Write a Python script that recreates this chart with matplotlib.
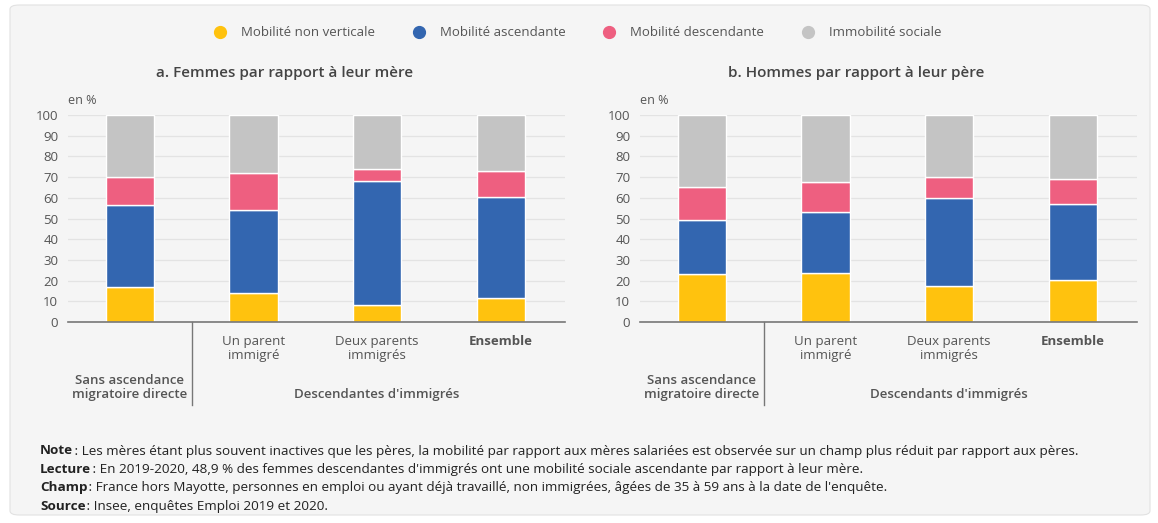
import matplotlib
matplotlib.use("Agg")
import matplotlib.pyplot as plt
from matplotlib.patches import FancyBboxPatch
from matplotlib.lines import Line2D
import numpy as np

plt.rcParams['font.family'] = ['Open Sans', 'DejaVu Sans']

categories = ["", "Un parent\nimmigré", "Deux parents\nimmigrés", "Ensemble"]
series = ["Mobilité non verticale", "Mobilité ascendante", "Mobilité descendante", "Immobilité sociale"]
colors = ["#FFC20E", "#3366B0", "#EE5F80", "#C4C4C4"]

# Femmes par rapport à leur mère
f_nonvert = [17.0, 14.0, 8.0, 11.5]
f_asc = [39.5, 40.0, 60.0, 48.9]
f_desc = [13.5, 18.0, 6.0, 12.6]
f_immo = [30.0, 28.0, 26.0, 27.0]

# Hommes par rapport à leur père
h_nonvert = [23.0, 23.5, 17.5, 20.5]
h_asc = [26.5, 29.5, 42.5, 36.5]
h_desc = [15.5, 14.5, 10.0, 12.0]
h_immo = [35.0, 32.5, 30.0, 31.0]

yticks = list(range(0, 101, 10))

TXT = "#555555"
fig = plt.figure(figsize=(11.58, 5.23), dpi=100)
fig.patch.set_facecolor("white")
W, H = 1158, 523
bg = FancyBboxPatch((10 / W, 8 / H), 1140 / W, 510 / H, boxstyle="round,pad=0,rounding_size=0.008",
                    transform=fig.transFigure, facecolor="#F5F5F5", edgecolor="#E2E2E2", lw=0.8, zorder=-10)
fig.patches.append(bg)

def panel(left, data, title, group_label):
    ax = fig.add_axes([left / W, 1 - 322 / H, 497 / W, 207 / H], zorder=2)
    ax.set_facecolor("none")
    x = np.arange(len(categories))
    bottom = np.zeros(len(categories))
    for vals, c in zip(data, colors):
        ax.bar(x, vals, 0.39, bottom=bottom, color=c, edgecolor="white", linewidth=1.0, zorder=3)
        bottom += np.array(vals)
    ax.set_xlim(-0.5, 3.52)
    ax.set_ylim(0, 100)
    ax.set_yticks(yticks)
    ax.set_yticklabels([str(t) for t in yticks], color=TXT, fontsize=9.5)
    ax.tick_params(axis="y", length=0, pad=7)
    ax.tick_params(axis="x", length=0)
    ax.set_xticks(x)
    ax.set_xticklabels([])
    ax.grid(axis="y", color="#E3E3E3", lw=0.9, zorder=0)
    for s in ["top", "right", "left"]:
        ax.spines[s].set_visible(False)
    ax.spines["bottom"].set_color("#777777")
    ax.spines["bottom"].set_linewidth(1.2)
    ax.spines["bottom"].set_zorder(4)
    for i, lab in enumerate(categories):
        if lab:
            ax.text(i, -6.5, lab, ha="center", va="top", fontsize=9.5, color=TXT,
                    fontweight="bold" if lab == "Ensemble" else "normal",
                    linespacing=1.1, transform=ax.transData)
    ax.plot([0.5, 0.5], [0, -40], color="#777777", lw=1.0, clip_on=False)
    ax.text(0, -38, "Sans ascendance\nmigratoire directe", ha="center", va="bottom", fontsize=9.5,
            color=TXT, fontweight="semibold", linespacing=1.1)
    ax.text(2, -38, group_label, ha="center", va="bottom", fontsize=9.5, color=TXT, fontweight="semibold")
    ax.text(-0.5, 104, "en %", ha="left", va="bottom", fontsize=9, color=TXT)
    ax.text(1.25, 117, title, ha="center", va="bottom", fontsize=11, color="#444444", fontweight="semibold")
    return ax

panel(68, [f_nonvert, f_asc, f_desc, f_immo], "a. Femmes par rapport à leur mère", "Descendantes d'immigrés")
panel(640, [h_nonvert, h_asc, h_desc, h_immo], "b. Hommes par rapport à leur père", "Descendants d'immigrés")

handles = [Line2D([0], [0], marker="o", ls="", markersize=8.5, markerfacecolor=c, markeredgecolor=c) for c in colors]
leg = fig.legend(handles, series, loc="center", bbox_to_anchor=(0.5 - 5 / W, 1 - 33 / H), ncol=4, frameon=False,
                 fontsize=9.5, handletextpad=0.6, columnspacing=2.3, labelcolor=TXT)

notes = [
    ("Note", " : Les mères étant plus souvent inactives que les pères, la mobilité par rapport aux mères salariées est observée sur un champ plus réduit par rapport aux pères."),
    ("Lecture", " : En 2019-2020, 48,9 % des femmes descendantes d'immigrés ont une mobilité sociale ascendante par rapport à leur mère."),
    ("Champ", " : France hors Mayotte, personnes en emploi ou ayant déjà travaillé, non immigrées, âgées de 35 à 59 ans à la date de l'enquête."),
    ("Source", " : Insee, enquêtes Emploi 2019 et 2020."),
]
y0 = 451
fig.canvas.draw()
for i, (b, t) in enumerate(notes):
    yy = 1 - (y0 + i * 18.5) / H
    tb = fig.text(40 / W, yy, b, fontsize=9.7, fontweight="bold", color="#222222", va="center", ha="left")
    bb = tb.get_window_extent(renderer=fig.canvas.get_renderer())
    fig.text(bb.x1 / W - 0.002, yy, t, fontsize=9.7, color="#222222", va="center", ha="left")

fig.savefig("out.png", dpi=100, facecolor=fig.get_facecolor())
